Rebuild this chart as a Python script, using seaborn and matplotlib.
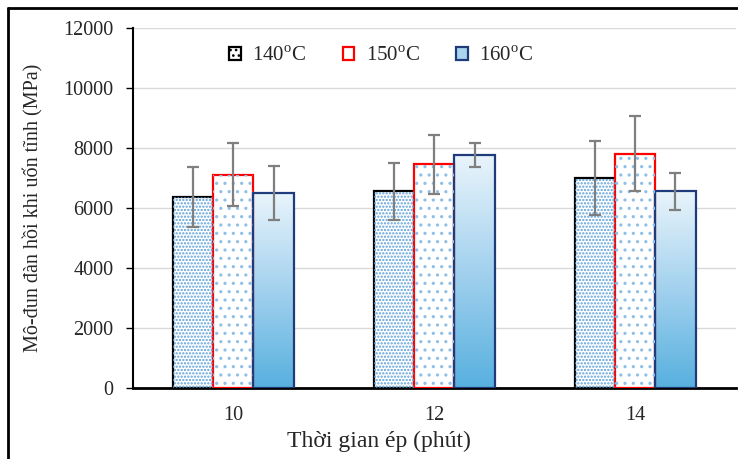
import numpy as np
import pandas as pd
import matplotlib
matplotlib.use("Agg")
import matplotlib.pyplot as plt
import seaborn as sns
from matplotlib.patches import Patch, Rectangle
from matplotlib.lines import Line2D
from matplotlib.colors import LinearSegmentedColormap

# ---- data ----
times = ["10", "12", "14"]
temps = ["140", "150", "160"]
mean_140 = [6350, 6550, 7000]
mean_150 = [7100, 7450, 7800]
mean_160 = [6500, 7750, 6550]
err_140 = [1000, 950, 1230]
err_150 = [1050, 970, 1250]
err_160 = [900, 400, 630]
yticks = [0, 2000, 4000, 6000, 8000, 10000, 12000]
xlabel = "Thời gian ép (phút)"
ylabel = "Mô-đun đàn hồi khi uốn tĩnh (MPa)"

means = [mean_140, mean_150, mean_160]
errs = [err_140, err_150, err_160]
df = pd.DataFrame({
    "time": np.repeat([times], 3, axis=0).ravel(),
    "temp": np.repeat(temps, 3),
    "value": np.concatenate(means),
})

sns.set_theme(style="white")
plt.rcParams["font.family"] = ["Liberation Serif", "DejaVu Serif"]
plt.rcParams["mathtext.fontset"] = "custom"
plt.rcParams["mathtext.rm"] = "Liberation Serif"
plt.rcParams["hatch.linewidth"] = 1.1

fig = plt.figure(figsize=(7.38, 4.59), dpi=100)
ax = fig.add_axes([0.180, 0.1547, 0.817, 0.7843])

sns.barplot(data=df, x="time", y="value", hue="temp", order=times,
            hue_order=temps, errorbar=None, width=0.6, gap=0, dodge=True,
            ax=ax, legend=False, zorder=2)

edge_cols = ["#000000", "#ff0000", "#1f3b7a"]
hatches = [".....", "..", None]
hatch_cols = ["#5b9fd8", "#8dbfe8", None]
grad_cmap = LinearSegmentedColormap.from_list("g", ["#57b0df", "#a2d1ee", "#e9f4fb"])
grad = np.linspace(0, 1, 256).reshape(-1, 1)

bar_conts = list(ax.containers)[:3]
for i, cont in enumerate(bar_conts):
    xs, ys = [], []
    for bar in cont.patches:
        x0, w, h = bar.get_x(), bar.get_width(), bar.get_height()
        bar.set_facecolor("white" if i < 2 else "none")
        bar.set_edgecolor(edge_cols[i])
        bar.set_linewidth(1.6)
        bar.set_zorder(3)
        if hatches[i]:
            hp = Rectangle((x0, 0), w, h, facecolor="none",
                           edgecolor=hatch_cols[i], linewidth=0.01,
                           hatch=hatches[i], zorder=3.1)
            ax.add_patch(hp)
        else:
            ax.imshow(grad, extent=[x0, x0 + w, 0, h], origin="lower",
                      aspect="auto", cmap=grad_cmap, zorder=2.2)
        xs.append(x0 + w / 2)
        ys.append(h)
    ax.errorbar(xs, ys, yerr=errs[i], fmt="none", ecolor="#7f7f7f",
                elinewidth=1.6, capsize=4.5, capthick=1.6, zorder=4)

ax.set_xlim(-0.5, 2.5)
ax.set_ylim(0, 12000)
ax.set_yticks(yticks)
ax.set_yticklabels([str(v) for v in yticks])
ax.yaxis.grid(True, color="#d9d9d9", linewidth=1)
ax.set_axisbelow(True)

for s in ["top", "right"]:
    ax.spines[s].set_visible(False)
ax.spines["left"].set_color("black")
ax.spines["left"].set_linewidth(1.5)
ax.spines["bottom"].set_color("black")
ax.spines["bottom"].set_linewidth(2)

ax.tick_params(axis="y", direction="out", length=5, width=1, color="black",
               labelsize=14.5, pad=9, left=True)
ax.tick_params(axis="x", direction="in", length=4, width=1.5, color="black",
               labelsize=14.5, pad=13, bottom=True)
ax.set_xlabel(xlabel, fontsize=17, labelpad=4, x=0.408)
ax.set_ylabel(ylabel, fontsize=14.5, labelpad=14)

handles = [
    Patch(facecolor="white", edgecolor="black", hatch="...", linewidth=1.6),
    Patch(facecolor="white", edgecolor="#ff0000", linewidth=1.6),
    Patch(facecolor="#a9d5ef", edgecolor="#1f3b7a", linewidth=1.6),
]
labels = [t + r"$^{\mathrm{o}}$C" for t in temps]
leg = ax.legend(handles, labels, ncol=3, frameon=False, loc="center",
                bbox_to_anchor=(0.412, 0.922), fontsize=15, handlelength=0.55,
                handleheight=0.55, handletextpad=0.55, columnspacing=1.75)

# outer frame lines
fig.add_artist(Line2D([0.011, 0.011], [0, 0.982], color="black", lw=2,
                      transform=fig.transFigure))
fig.add_artist(Line2D([0.011, 1.0], [0.982, 0.982], color="black", lw=2,
                      transform=fig.transFigure))

fig.savefig("out.png", dpi=100)
